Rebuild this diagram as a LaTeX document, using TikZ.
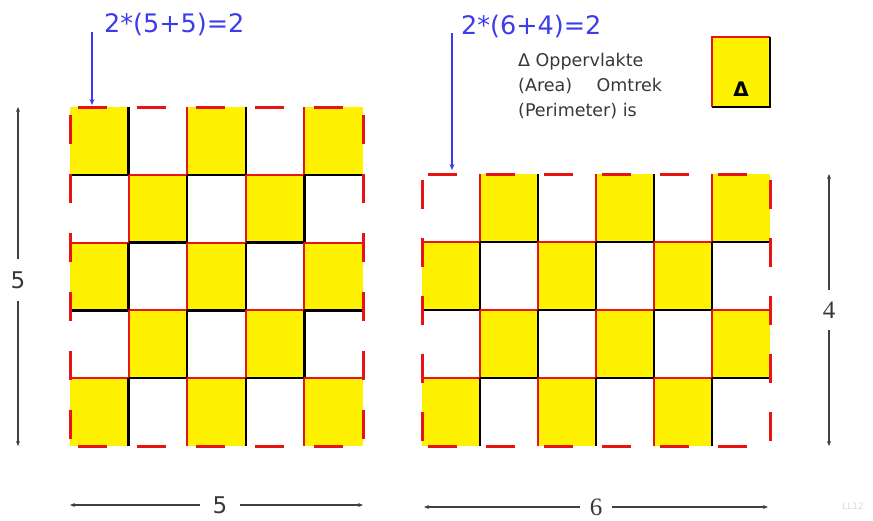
\documentclass[tikz,border=0pt]{standalone}
\usepackage{fontspec}
\setmainfont{DejaVu Sans}
\newfontfamily\dimserif{Liberation Serif}
\usetikzlibrary{arrows.meta,calc,positioning}
\definecolor{chkyellow}{RGB}{255,242,0}
\definecolor{chkred}{RGB}{232,20,20}
\definecolor{chkblue}{RGB}{60,60,235}
\definecolor{chkgray}{RGB}{55,55,55}

\begin{document}
\begin{tikzpicture}[x=1pt, y=-1pt,
      redline/.style={chkred, line width=2pt},
      blkline/.style={black, line width=2.5pt},
      border/.style={chkred, line width=3pt},
      calc/.style={text=chkblue, font=\fontsize{25.5}{25.5}\selectfont, inner sep=0pt},
      bluearr/.style={-{Stealth[length=6pt,width=5pt]}, chkblue, line width=2.2pt},
      dimlabel/.style={text=chkgray, font=\fontsize{23}{23}\selectfont, inner sep=12pt},
      dimarr/.style={-{Stealth[length=5pt,width=4pt]}, black!75, line width=1.4pt}
    ]
      \useasboundingbox (0,0) rectangle (873,520);

      % Left board: 5 x 5
      \foreach \r in {0,...,4}
        \foreach \c in {0,...,4} {
          \pgfmathtruncatemacro{\odd}{mod(\r+\c,2)}
          \ifnum\odd=0
            \fill[chkyellow] (70+\c*58.6, 107+\r*67.8) rectangle ++(58.6,67.8);
          \fi
        }
      \foreach \r in {0,...,4}
        \foreach \c in {0,...,4} {
          \pgfmathtruncatemacro{\odd}{mod(\r+\c,2)}
          \ifnum\odd=0
            \ifnum\r>0 \draw[redline] (70+\c*58.6, 107+\r*67.8) -- ++(58.6,0); \fi
            \ifnum\c>0 \draw[redline] (70+\c*58.6, 107+\r*67.8) -- ++(0,67.8); \fi
            \ifnum\c<4 \draw[blkline] (70+\c*58.6+58.6, 107+\r*67.8) -- ++(0,67.8); \fi
            \ifnum\r<4 \draw[blkline] (70+\c*58.6, 107+\r*67.8+67.8) -- ++(58.6,0); \fi
          \fi
        }
      \coordinate (lnw) at (70,107);
      \coordinate (lne) at (363,107);
      \coordinate (lsw) at (70,446);
      \coordinate (lse) at (363,446);
      \begin{scope}[border, dash pattern=on 29pt off 30pt, dash phase=51.5pt]
        \draw (lnw) -- (lne);
        \draw (lsw) -- (lse);
        \draw (lnw) -- (lsw);
        \draw (lne) -- (lse);
      \end{scope}

      % Right board: 6 x 4
      \foreach \r in {0,...,3}
        \foreach \c in {0,...,5} {
          \pgfmathtruncatemacro{\odd}{mod(\r+\c,2)}
          \ifnum\odd=1
            \fill[chkyellow] (422+\c*58, 174+\r*68) rectangle ++(58,68);
          \fi
        }
      \foreach \r in {0,...,3}
        \foreach \c in {0,...,5} {
          \pgfmathtruncatemacro{\odd}{mod(\r+\c,2)}
          \ifnum\odd=1
            \ifnum\r>0 \draw[redline] (422+\c*58, 174+\r*68) -- ++(58,0); \fi
            \ifnum\c>0 \draw[redline] (422+\c*58, 174+\r*68) -- ++(0,68); \fi
            \ifnum\c<5 \draw[blkline] (422+\c*58+58, 174+\r*68) -- ++(0,68); \fi
            \ifnum\r<3 \draw[blkline] (422+\c*58, 174+\r*68+68) -- ++(58,0); \fi
          \fi
        }
      \coordinate (rnw) at (422,174);
      \coordinate (rne) at (770,174);
      \coordinate (rsw) at (422,446);
      \coordinate (rse) at (770,446);
      \begin{scope}[border, dash pattern=on 29pt off 29pt, dash phase=52pt]
        \draw (rnw) -- (rne);
        \draw (rsw) -- (rse);
        \draw (rnw) -- (rsw);
        \draw (rne) -- (rse);
      \end{scope}

      % Legend
      \node[fill=chkyellow, minimum width=58pt, minimum height=70pt, inner sep=0pt] (legend) at (741,72) {};
      \draw[redline] (legend.south west) |- (legend.north east);
      \draw[blkline] (legend.north east) |- (legend.south west);
      \node[font=\bfseries\fontsize{20}{20}\selectfont] (legdelta) at (741,89) {Δ};
      \node[anchor=north west, align=left, inner sep=0pt, text=chkgray, font=\fontsize{17.5}{25}\selectfont] (legtext) at (518,53)
        {Δ Oppervlakte\\(Area)\hspace{19pt} Omtrek\\(Perimeter) is};

      % Perimeter sums
      \node[calc, anchor=west] (calcL) at (104,25) {2*(5+5)=2};
      \node[calc, anchor=west] (calcR) at (461,27) {2*(6+4)=2};
      \coordinate (calcLfrom) at (92,32);
      \coordinate (calcLto) at (92,105);
      \coordinate (calcRfrom) at (452,33);
      \coordinate (calcRto) at (452,170);
      \draw[bluearr] (calcLfrom) -- (calcLto);
      \draw[bluearr] (calcRfrom) -- (calcRto);

      % Dimensions
      \node[dimlabel] (dimLv) at (18,280) {5};
      \draw[dimarr] (dimLv) -- (18,107);
      \draw[dimarr] (dimLv) -- (18,446);
      \node[dimlabel] (dimLh) at (220,505) {5};
      \draw[dimarr] (dimLh) -- (70,505);
      \draw[dimarr] (dimLh) -- (363,505);
      \node[dimlabel, font=\dimserif\fontsize{25}{25}\selectfont] (dimRv) at (829,310) {4};
      \draw[dimarr] (dimRv) -- (829,174);
      \draw[dimarr] (dimRv) -- (829,446);
      \node[dimlabel, font=\dimserif\fontsize{25}{25}\selectfont, inner sep=10pt] (dimRh) at (596,507) {6};
      \draw[dimarr] (dimRh) -- (424,507);
      \draw[dimarr] (dimRh) -- (768,507);

      \node[text=black!15, font=\fontsize{9}{9}\selectfont] (pageno) at (853,506) {LL12};
    \end{tikzpicture}
\end{document}
